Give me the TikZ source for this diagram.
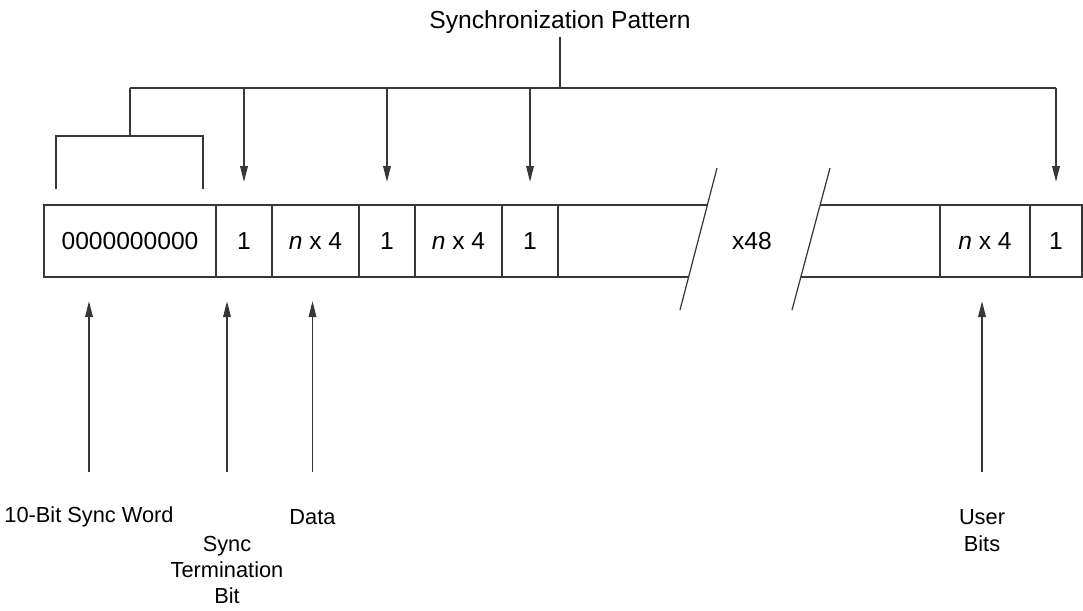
\documentclass[tikz,border=0pt]{standalone}
\usepackage{fontspec}
\setmainfont{Liberation Sans}
\usetikzlibrary{arrows.meta, positioning, calc}
\definecolor{framegray}{RGB}{55,55,55}

\begin{document}
\begin{tikzpicture}[
  cell/.style={rectangle, draw=framegray, line width=1pt,
    minimum height=1.44cm, inner sep=0pt, outer sep=0pt,
    font=\fontsize{14}{16}\selectfont},
  lbl/.style={align=center, inner sep=0pt,
    font=\fontsize{12.4}{15.2}\selectfont},
  wire/.style={draw=framegray, line width=1pt},
  arrow/.style={wire, -{Triangle[length=0.32cm, width=0.15cm]}}
]
\useasboundingbox (0,0) rectangle (21.66,-12.20);

% Frame cells
\node[cell, minimum width=3.44cm, anchor=west] (sync) at (0.88,-4.82)
  {0000000000};
\node[cell, minimum width=1.12cm, right=0pt of sync] (one1) {1};
\node[cell, minimum width=1.74cm, right=0pt of one1] (dat1) {\textit{n} x 4};
\node[cell, minimum width=1.12cm, right=0pt of dat1] (one2) {1};
\node[cell, minimum width=1.74cm, right=0pt of one2] (dat2) {\textit{n} x 4};
\node[cell, minimum width=1.12cm, right=0pt of dat2] (one3) {1};
\node[cell, minimum width=1.04cm, anchor=east] (oneN) at (21.64,-4.82) {1};
\node[cell, minimum width=1.80cm, left=0pt of oneN] (datN) {\textit{n} x 4};

% Break in the frame
\coordinate (cut1a) at (14.34,-3.36);
\coordinate (cut1b) at (13.60,-6.20);
\coordinate (cut2a) at (16.60,-3.36);
\coordinate (cut2b) at (15.84,-6.20);
\draw[wire, line width=0.7pt] (cut1a) -- (cut1b);
\draw[wire, line width=0.7pt] (cut2a) -- (cut2b);
\draw[wire] (one3.north east) -- ($(cut1a)!0.2606!(cut1b)$);
\draw[wire] (one3.south east) -- ($(cut1a)!0.7676!(cut1b)$);
\draw[wire] ($(cut2a)!0.2606!(cut2b)$) -- (datN.north west);
\draw[wire] ($(cut2a)!0.7676!(cut2b)$) -- (datN.south west);
\node[font=\fontsize{14}{16}\selectfont] (rep) at (15.04,-4.82) {x48};

% Synchronization pattern
\node[font=\fontsize{14}{16}\selectfont, inner sep=2pt] (title)
  at (11.20,-0.44) {Synchronization Pattern};
\coordinate (bus) at (0,-1.76);
\draw[wire] (title.south) -- (title.south |- bus);
\draw[wire] (sync.north |- bus) -- (oneN.north |- bus);
\draw[wire] (sync.north |- bus) -- ++(0,-0.96);
\draw[wire] ([shift={(0.24,0.32)}]sync.north west)
  -- ++(0,1.06) -- ++(2.94,0) -- ++(0,-1.06);
\foreach \c in {one1, one2, one3, oneN}
  \draw[arrow] (\c.north |- bus) -- ([yshift=0.46cm]\c.north);

% Field labels
\node[lbl] (lsync) at (1.78,-10.34) {10-Bit Sync Word};
\node[lbl, font=\fontsize{12.4}{14.6}\selectfont] (lterm) at (4.54,-11.40)
  {Sync\\Termination\\Bit};
\node[lbl] (ldata) at (6.25,-10.34) {Data};
\node[lbl] (luser) at (19.64,-10.61) {User\\Bits};

\coordinate (tail) at (0,-9.44);
\coordinate (tip) at (0,-6.02);
\foreach \l in {lsync, lterm, ldata, luser}
  \draw[arrow] (\l |- tail) -- (\l |- tip);
\end{tikzpicture}
\end{document}
